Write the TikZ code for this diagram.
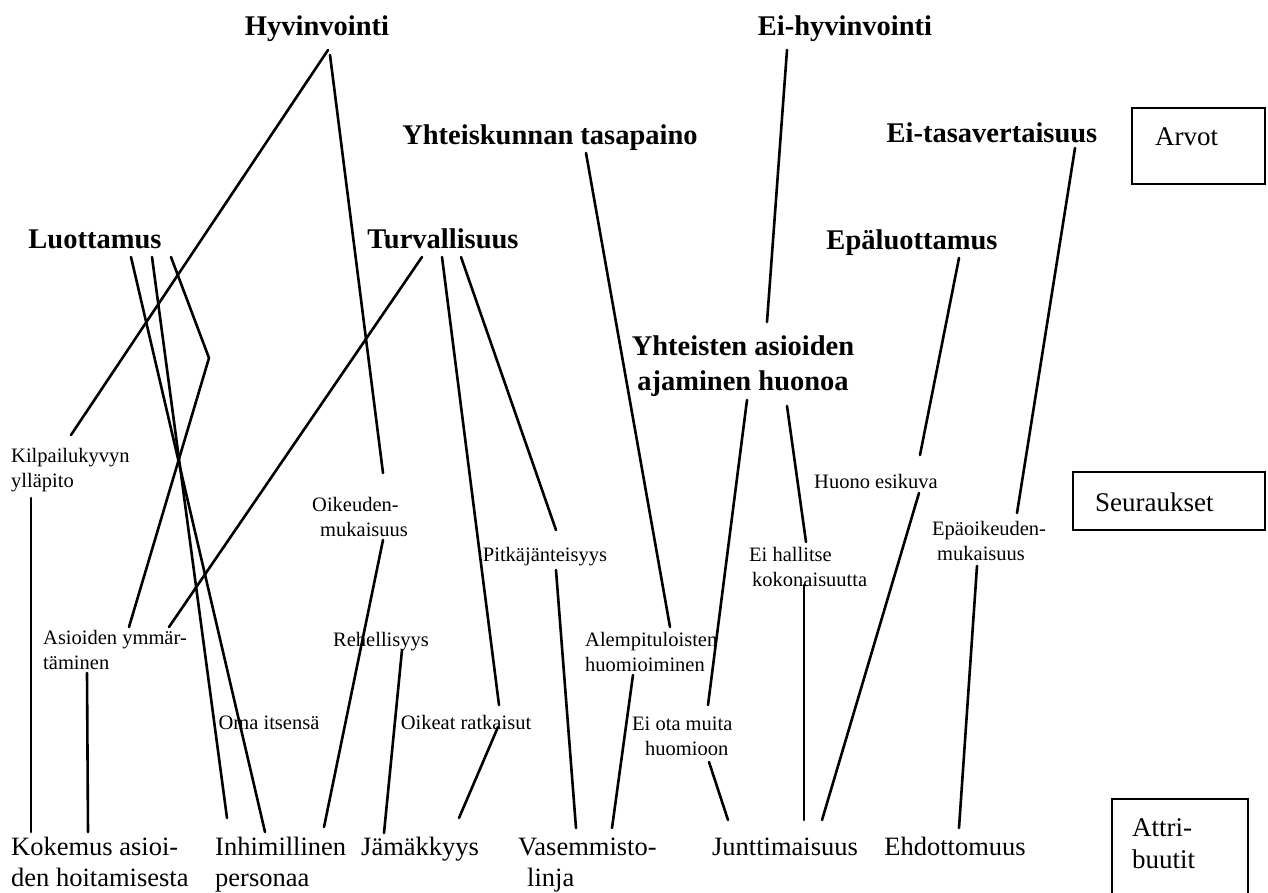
\documentclass[tikz,border=0pt]{standalone}
\usepackage{fontspec}
\setmainfont{Liberation Serif}
\usetikzlibrary{calc}

\tikzset{
  val/.style={font=\fontsize{28.5}{35}\selectfont\bfseries, inner sep=0pt, align=center},
  cons/.style={font=\fontsize{20.5}{25}\selectfont, inner sep=0pt},
  attr/.style={font=\fontsize{26.5}{31}\selectfont, inner sep=0pt},
  legend/.style={font=\fontsize{27}{32}\selectfont, inner sep=0pt, anchor=base west},
  link/.style={line width=2.6pt, line cap=round, line join=round},
  frame/.style={line width=1.8pt}
}

% Multi-line labels are placed by the baseline of their last line.
\begin{document}
\begin{tikzpicture}[x=1pt, y=-1pt]
\useasboundingbox[fill=white] (0,0) rectangle (1268,893);

% ---- values (top rows) ----
\node[val, anchor=base] (hyv)    at (317,36)  {Hyvinvointi};
\node[val, anchor=base] (eihyv)  at (845,36)  {Ei-hyvinvointi};
\node[val, anchor=base] (ytas)   at (550,145) {Yhteiskunnan tasapaino};
\node[val, anchor=base] (eitas)  at (992,143) {Ei-tasavertaisuus};
\node[val, anchor=base] (luot)   at (95,248)  {Luottamus};
\node[val, anchor=base] (turv)   at (443,248) {Turvallisuus};
\node[val, anchor=base] (epal)   at (912,250) {Epäluottamus};
\node[val, anchor=base] (yaa)    at (743,390) {Yhteisten asioiden\\ajaminen huonoa};

% ---- consequences ----
\node[cons, align=left, anchor=base west] (kilp)  at (11,487)   {Kilpailukyvyn\\ylläpito};
\node[cons, align=left, anchor=base west] (oik)   at (312,536)  {Oikeuden-\\\hspace*{8pt}mukaisuus};
\node[cons, anchor=base]                  (pitka) at (545,561)  {Pitkäjänteisyys};
\node[cons, anchor=base]                  (huono) at (876,488)  {Huono esikuva};
\node[cons, align=left, anchor=base west] (epaoik) at (932,560) {Epäoikeuden-\\\hspace*{5pt}mukaisuus};
\node[cons, align=left, anchor=base west] (eihal) at (749,586)  {Ei hallitse\\\hspace*{3pt}kokonaisuutta};
\node[cons, align=left, anchor=base west] (asiym) at (43,669)   {Asioiden ymmär-\\täminen};
\node[cons, anchor=base]                  (rehel) at (381,646)  {Rehellisyys};
\node[cons, align=left, anchor=base west] (alemp) at (585,671)  {Alempituloisten\\huomioiminen};
\node[cons, anchor=base]                  (oma)   at (269,729)  {Oma itsensä};
\node[cons, anchor=base]                  (oikrat) at (466,729) {Oikeat ratkaisut};
\node[cons, align=left, anchor=base west] (eiota) at (632,755)  {Ei ota muita\\\hspace*{13pt}huomioon};

% ---- attributes (bottom row) ----
\node[attr, align=left, anchor=base west] (kokem) at (11,886)  {Kokemus asioi-\\den hoitamisesta};
\node[attr, align=left, anchor=base west] (inhim) at (215,886) {Inhimillinen\\personaa};
\node[attr, anchor=base west]             (jamak) at (361,855) {Jämäkkyys};
\node[attr, align=left, anchor=base west] (vasem) at (518,886) {Vasemmisto-\\\hspace*{9pt}linja};
\node[attr, anchor=base]                  (juntt) at (785,855) {Junttimaisuus};
\node[attr, anchor=base]                  (ehdot) at (955,855) {Ehdottomuus};

% ---- level legend boxes ----
\draw[frame] (1132,108) rectangle (1265,184);
\node[legend] (arvot) at (1155,146) {Arvot};
\draw[frame] (1073,472) rectangle (1265,530);
\node[legend] (seur) at (1095,511) {Seuraukset};
\draw[frame] (1112,799) rectangle (1248,900);
\node[legend, align=left] (attri) at (1132,868) {Attri-\\buutit};

% ---- connector end points ----
\coordinate (hyv-1) at (328,50);   \coordinate (kilp-t) at (71,435);
\coordinate (hyv-2) at (330,55);   \coordinate (oik-t)  at (383,473);
\coordinate (eihyv-b) at (787,50); \coordinate (yaa-t)  at (767,322);
\coordinate (ytas-b) at (586,153); \coordinate (alemp-t) at (670,627);
\coordinate (eitas-b) at (1075,148); \coordinate (epaoik-t) at (1017,513);
\coordinate (luot-1) at (131,257); \coordinate (inhim-2) at (265,832);
\coordinate (luot-2) at (152,257); \coordinate (inhim-1) at (227,818);
\coordinate (luot-3) at (171,257); \coordinate (bend)    at (209,358);
\coordinate (asiym-1) at (129,627);
\coordinate (turv-1) at (422,257); \coordinate (asiym-2) at (169,627);
\coordinate (turv-2) at (442,257); \coordinate (oikrat-t) at (499,705);
\coordinate (turv-3) at (461,257); \coordinate (pitka-t) at (556,530);
\coordinate (epal-b) at (959,258); \coordinate (huono-t) at (920,455);
\coordinate (yaa-1) at (747,400);  \coordinate (eiota-t) at (708,705);
\coordinate (yaa-2) at (787,406);  \coordinate (eihal-t) at (806,542);
\coordinate (kilp-b) at (31,498);  \coordinate (kokem-1) at (31,832);
\coordinate (asiym-b) at (87,673); \coordinate (kokem-2) at (88,832);
\coordinate (oik-b) at (383,540);  \coordinate (inhim-3) at (324,827);
\coordinate (rehel-b) at (402,650); \coordinate (jamak-1) at (384,833);
\coordinate (oikrat-b) at (498,727); \coordinate (jamak-2) at (459,818);
\coordinate (pitka-b) at (556,570); \coordinate (vasem-1) at (576,828);
\coordinate (alemp-b) at (633,675); \coordinate (vasem-2) at (612,828);
\coordinate (eiota-b) at (709,762); \coordinate (juntt-1) at (728,820);
\coordinate (eihal-b) at (804,585); \coordinate (juntt-2) at (804,820);
\coordinate (huono-b) at (919,493); \coordinate (juntt-3) at (822,820);
\coordinate (epaoik-b) at (977,566); \coordinate (ehdot-t) at (959,828);

% ---- connectors ----
\draw[link] (hyv-1) -- (kilp-t);
\draw[link] (hyv-2) -- (oik-t);
\draw[link] (eihyv-b) -- (yaa-t);
\draw[link] (ytas-b) -- (alemp-t);
\draw[link] (eitas-b) -- (epaoik-t);
\draw[link] (luot-1) -- (inhim-2);
\draw[link] (luot-2) -- (inhim-1);
\draw[link] (luot-3) -- (bend) -- (asiym-1);
\draw[link] (turv-1) -- (asiym-2);
\draw[link] (turv-2) -- (oikrat-t);
\draw[link] (turv-3) -- (pitka-t);
\draw[link] (epal-b) -- (huono-t);
\draw[link] (yaa-1) -- (eiota-t);
\draw[link] (yaa-2) -- (eihal-t);
\draw[link] (kilp-b) -- (kokem-1);
\draw[link] (asiym-b) -- (kokem-2);
\draw[link] (oik-b) -- (inhim-3);
\draw[link] (rehel-b) -- (jamak-1);
\draw[link] (oikrat-b) -- (jamak-2);
\draw[link] (pitka-b) -- (vasem-1);
\draw[link] (alemp-b) -- (vasem-2);
\draw[link] (eiota-b) -- (juntt-1);
\draw[link] (eihal-b) -- (juntt-2);
\draw[link] (huono-b) -- (juntt-3);
\draw[link] (epaoik-b) -- (ehdot-t);
\end{tikzpicture}
\end{document}
